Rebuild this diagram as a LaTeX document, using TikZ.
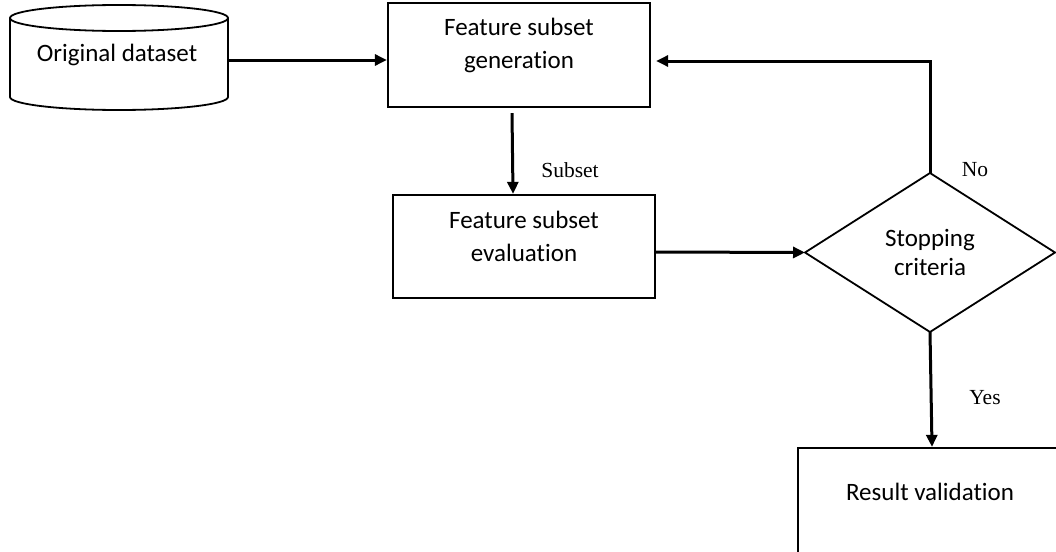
\documentclass[tikz,border=0pt]{standalone}
\usepackage{fontspec}
\setmainfont{Carlito}[RawFeature=-liga]
\newfontfamily\labfont{Liberation Serif}
\usetikzlibrary{shapes.geometric,arrows.meta}
\begin{document}
\begin{tikzpicture}[x=1pt,y=-1pt,
 box/.style={draw, line width=2.3pt, rectangle, inner sep=0pt},
 arr/.style={line width=3pt, -{Triangle[length=12pt,width=11pt]}},
 txt/.style={font=\fontsize{25}{33}\selectfont, align=center, inner sep=0pt},
 lab/.style={font=\labfont\fontsize{21.5}{26}\selectfont, inner sep=0pt}]
\useasboundingbox (0,0) rectangle (1056,551);
\clip (0,0) rectangle (1056,551);
% cylinder
\draw[line width=1.8pt, fill=white] (10,18) -- (10,97) arc[start angle=180, end angle=0, x radius=109, y radius=13] -- (228,18);
\draw[line width=1.8pt] (119,18) ellipse [x radius=109, y radius=13];
\node[minimum width=218pt, minimum height=105pt, inner sep=0pt] (data) at (119,57.5) {};
\node[txt] (datatext) at (117,55) {Original dataset};
% boxes
\node[box, minimum width=262pt, minimum height=104pt] (gen) at (519,55) {};
\node[txt] (gentext) at (519,45) {Feature subset\\generation};
\node[box, minimum width=262pt, minimum height=103pt] (eval) at (524,246.5) {};
\node[txt] (evaltext) at (524,236.5) {Feature subset\\evaluation};
\node[draw, diamond, line width=1.8pt, minimum width=250pt, minimum height=159pt, inner sep=0pt, outer sep=0pt, align=center, font=\fontsize{25}{29}\selectfont] (crit) at (930,252.5) {Stopping\\criteria};
\node[box, minimum width=268pt, minimum height=112pt] (res) at (932,504) {};
\node[txt] (restext) at (930,492) {Result validation};
% connectors
\draw[arr] ([yshift=-2.5pt]data.east) -- ([yshift=-5pt]gen.west);
\draw[arr] ([xshift=-7pt,yshift=-5pt]gen.south) -- ([xshift=-11pt]eval.north);
\draw[arr] ([yshift=-5.5pt]eval.east) -- (crit.west);
\draw[arr] (crit.north) |- ([xshift=5pt,yshift=-6pt]gen.east);
\draw[arr] (crit.south) -- (res.north);
% labels
\node[lab] (lsubset) at (570,170) {Subset};
\node[lab] (lno) at (975,170) {No};
\node[lab] (lyes) at (985,398) {Yes};
\end{tikzpicture}
\end{document}
